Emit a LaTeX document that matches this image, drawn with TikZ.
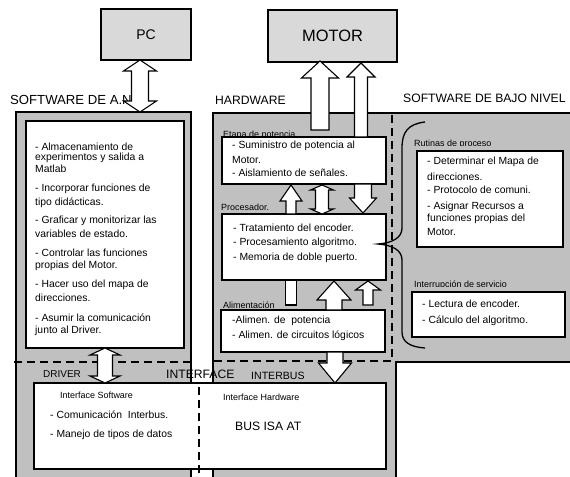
\documentclass[tikz,border=0pt]{standalone}
\usepackage{fontspec}
\setmainfont{Liberation Sans}
\usetikzlibrary{fit}
\definecolor{panelgray}{RGB}{192,192,192}
\definecolor{boxgray}{RGB}{217,217,217}

% vertical block arrows: x, y1, y2, shaft half width, head half width, head length
\newcommand\blkup[6]{%
  \draw[blockarrow] ({#1-#4},#3) -- ({#1-#4},{#2+#6}) -- ({#1-#5},{#2+#6}) -- (#1,#2)
    -- ({#1+#5},{#2+#6}) -- ({#1+#4},{#2+#6}) -- ({#1+#4},#3) -- cycle;}
\newcommand\blkdown[6]{%
  \draw[blockarrow] ({#1-#4},#2) -- ({#1-#4},{#3-#6}) -- ({#1-#5},{#3-#6}) -- (#1,#3)
    -- ({#1+#5},{#3-#6}) -- ({#1+#4},{#3-#6}) -- ({#1+#4},#2) -- cycle;}
\newcommand\blkboth[6]{%
  \draw[blockarrow] (#1,#2) -- ({#1+#5},{#2+#6}) -- ({#1+#4},{#2+#6}) -- ({#1+#4},{#3-#6})
    -- ({#1+#5},{#3-#6}) -- (#1,#3) -- ({#1-#5},{#3-#6}) -- ({#1-#4},{#3-#6})
    -- ({#1-#4},{#2+#6}) -- ({#1-#5},{#2+#6}) -- cycle;}

\begin{document}
\begin{tikzpicture}[x=1bp,y=-1bp,
  panel/.style={fill=panelgray,draw=black,line width=1.4bp},
  wbox/.style={fill=white,draw=black,line width=1.4bp,inner sep=0pt},
  gbox/.style={fill=boxgray,draw=black,line width=1.4bp,inner sep=0pt},
  blockarrow/.style={fill=white,draw=black,line width=1.1bp,line join=miter},
  sepline/.style={line width=2.8bp,dash pattern=on 8bp off 5bp},
  txt/.style={anchor=west,inner sep=0pt,font=\fontsize{10.4}{12}\selectfont},
  small/.style={anchor=west,inner sep=0pt,font=\fontsize{9}{10}\selectfont},
  cutlabel/.style={anchor=base west,inner sep=0pt,font=\fontsize{9}{10}\selectfont},
  head/.style={anchor=west,inner sep=0pt,font=\fontsize{12.2}{14}\selectfont},
  brace/.style={line width=1.3bp}]
\useasboundingbox (0,0) rectangle (570,477);

% ---------- top blocks ----------
\node[gbox,fit={(101,9) (191,60)}] (pc) {};
\node[font=\fontsize{14}{16}\selectfont] (pclabel) at (pc.center) {PC};
\node[gbox,fit={(268,10) (397,62)}] (motor) {};
\node[font=\fontsize{16.5}{18}\selectfont] (motorlabel) at (motor.center) {MOTOR};

% ---------- panels ----------
\node[panel,inner sep=0pt,fit={(16,112) (191,479)}] (swan) {};
\path[panel] (213,113) -- (572,113) -- (572,362) -- (396,362) -- (396,479) -- (213,479) -- cycle;
\coordinate (hw) at (213,113);

% panel titles
\node[head,font=\fontsize{13.2}{15}\selectfont] (tswan) at (10,100) {SOFTWARE DE A.N.};
\node[head] (thw) at (215,100) {HARDWARE};
\node[head] (tsbn) at (403,98) {SOFTWARE DE BAJO NIVEL};

% ---------- software de A.N. ----------
\node[wbox,fit={(26,121) (184,348)}] (anbox) {};
\node[txt] (a1) at (35,147) {- Almacenamiento de};
\node[txt] (a2) at (35,158) {experimentos y salida a};
\node[txt] (a3) at (35,169) {Matlab};
\node[txt] (a4) at (35,189) {- Incorporar funciones de};
\node[txt] (a5) at (35,203) {tipo didácticas.};
\node[txt] (a6) at (35,221) {- Graficar y monitorizar las};
\node[txt] (a7) at (35,234) {variables de estado.};
\node[txt] (a8) at (35,253) {- Controlar las funciones};
\node[txt] (a9) at (35,266) {propias del Motor.};
\node[txt] (a10) at (35,285) {- Hacer uso del mapa de};
\node[txt] (a11) at (35,298) {direcciones.};
\node[txt] (a12) at (35,318) {- Asumir la comunicación};
\node[txt] (a13) at (35,331) {junto al Driver.};

% ---------- hardware ----------
\begin{scope}
  \clip (218,125) rectangle (320,136.6);
  \node[cutlabel] (letapa) at (223,137.6) {Etapa de potencia};
\end{scope}
\node[wbox,fit={(222,137) (386,184)}] (etapa) {};
\node[txt] (e1) at (232,146) {- Suministro de potencia al};
\node[txt] (e2) at (232,160) {Motor.};
\node[txt] (e3) at (232,173) {- Aislamiento de señales.};

\node[small] (lproc) at (221,207) {Procesador.};
\node[wbox,fit={(222,214) (386,280)}] (proc) {};
\node[txt] (p1) at (233,228) {- Tratamiento del encoder.};
\node[txt] (p2) at (233,243) {- Procesamiento algoritmo.};
\node[txt] (p3) at (233,258) {- Memoria de doble puerto.};

\begin{scope}
  \clip (218,295) rectangle (320,307.4);
  \node[cutlabel] (lalim) at (223,308.5) {Alimentación};
\end{scope}
\node[wbox,fit={(221,310) (385,352)}] (alim) {};
\node[txt] (al1) at (232,321) {-Alimen. de~ potencia};
\node[txt] (al2) at (232,336) {- Alimen. de circuitos lógicos};

% ---------- software de bajo nivel ----------
\begin{scope}
  \clip (410,134) rectangle (520,145.6);
  \node[cutlabel] (lrut) at (414,146.6) {Rutinas de proceso};
\end{scope}
\node[wbox,fit={(417,151) (563,247)}] (rut) {};
\node[txt] (r1) at (427,162) {- Determinar el Mapa de};
\node[txt] (r2) at (427,177) {direcciones.};
\node[txt] (r3) at (427,190) {- Protocolo de comuni.};
\node[txt] (r4) at (427,207) {- Asignar Recursos a};
\node[txt] (r5) at (427,219) {funciones propias del};
\node[txt] (r6) at (427,232) {Motor.};

\begin{scope}
  \clip (410,274) rectangle (530,286.4);
  \node[cutlabel] (lint) at (414,287.5) {Interrupción de servicio};
\end{scope}
\node[wbox,fit={(412,292) (565,337)}] (intr) {};
\node[txt] (i1) at (422,304) {- Lectura de encoder.};
\node[txt] (i2) at (422,321) {- Cálculo del algoritmo.};

% brace grouping the low level routines
\draw[brace] (425,122) .. controls (408,124) and (402,132) .. (402,148)
  -- (402,228) .. controls (402,238) and (392,243) .. (378,244)
  .. controls (392,245) and (402,250) .. (402,260)
  -- (402,332) .. controls (402,342) and (410,347) .. (425,348);

% ---------- separators ----------
\draw[sepline] (14,362) -- (190,362);
\draw[sepline] (214,361) -- (392,361) -- (392,113);

% ---------- interface ----------
\node[head] (tinterface) at (166,374) {INTERFACE};
\node[anchor=west,inner sep=0pt,font=\fontsize{10}{12}\selectfont] (tdriver) at (43,374) {DRIVER};
\node[anchor=west,inner sep=0pt,font=\fontsize{10.6}{12}\selectfont] (tinterbus) at (251,376) {INTERBUS};
\node[wbox,fit={(34,383) (386,469)}] (iface) {};
\draw[sepline] (199,387) -- (199,479);
\node[small] (isw) at (60,395) {Interface Software};
\node[txt] (is1) at (50,415) {- Comunicación~ Interbus.};
\node[txt] (is2) at (50,435) {- Manejo de tipos de datos};
\node[small] (ihw) at (223,397) {Interface Hardware};
\node[head] (isa) at (235,426) {BUS ISA AT};

% ---------- block arrows ----------
\blkboth{140}{60}{112}{8.5}{16.5}{11}
\blkup{320}{61}{130}{9}{18.5}{17}
\blkup{361}{63}{137}{6.5}{14}{14}
\blkup{291}{185}{214}{5}{11}{16}
\blkboth{322}{185}{214}{6.5}{11.5}{5}
\blkdown{363}{184}{213}{8.5}{13.5}{15}
\draw[blockarrow] (285.5,280) rectangle (296.5,305);
\blkup{334}{281}{310}{8}{17}{19}
\blkup{368}{281}{305}{5}{12.5}{9}
\blkdown{335}{352}{383}{8}{16.5}{20}
\blkboth{105}{348}{383}{7.5}{15}{7}
\end{tikzpicture}
\end{document}
